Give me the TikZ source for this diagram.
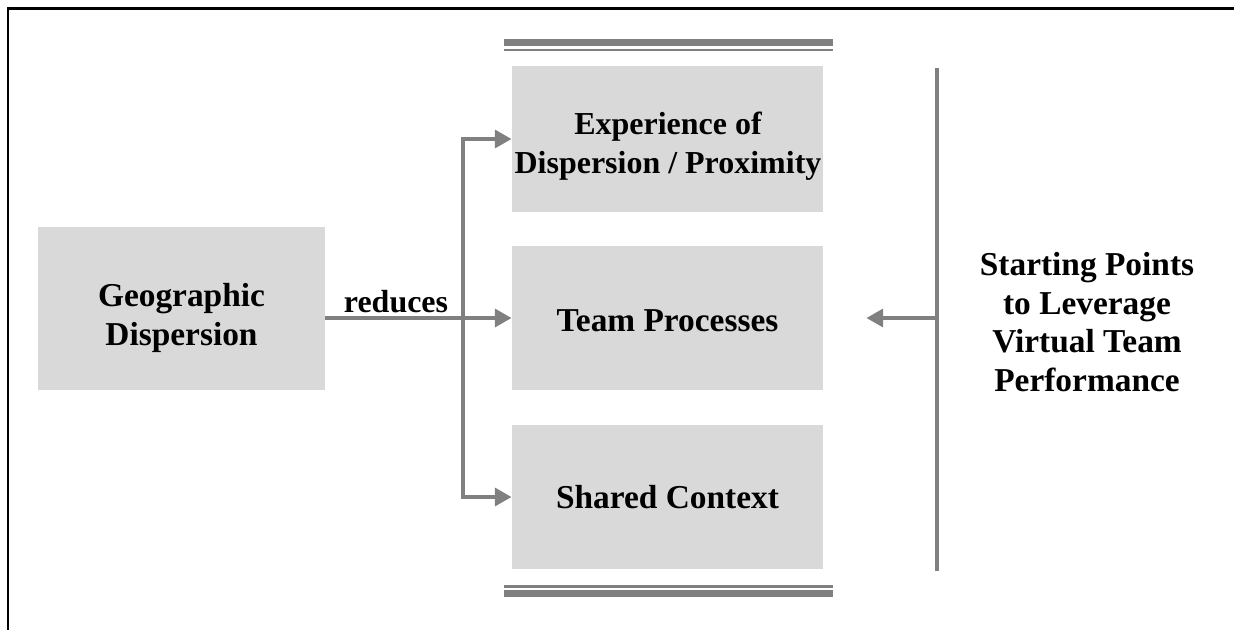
\documentclass[tikz,border=0pt]{standalone}
\usepackage{fontspec}
\setmainfont{Liberation Serif}
\usetikzlibrary{arrows.meta,positioning}

\tikzset{
  factor/.style={fill=black!15, inner sep=0pt, minimum width=#1*0.02cm},
  boxtext/.style={align=center, inner sep=0pt, font=\fontsize{19}{22}\selectfont\bfseries},
  link/.style={draw=black!50, line width=2.8pt},
  arr/.style={link, -{Triangle[length=9.5pt,width=10pt]}}
}

\begin{document}
\begin{tikzpicture}[x=0.02cm,y=-0.02cm]
    \useasboundingbox (0,0) rectangle (1234,630);
    % Frame (top and left only)
    \draw[line width=1.7pt] (1234,8) -- (8,8) -- (8,630);

    % Boxes
    \node[factor=287, minimum height=163*0.02cm] (geo) at (181.5,308.5) {};
    \node[factor=311, minimum height=146*0.02cm] (exp) at (667.5,139) {};
    \node[factor=311, minimum height=144*0.02cm] (team) at (667.5,318) {};
    \node[factor=311, minimum height=144*0.02cm] (shared) at (667.5,497) {};

    % Box texts
    \node[boxtext] (geotxt) at (181.5,318) {Geographic\\Dispersion};
    \node[boxtext, font=\fontsize{18.2}{22}\selectfont\bfseries] (exptxt) at (668,146)
      {Experience of\\Dispersion / Proximity};
    \node[boxtext] (teamtxt) at (667.5,321) {Team Processes};
    \node[boxtext] (sharedtxt) at (667.5,497) {Shared Context};

    % Double bars above and below
    \draw[black!50, line width=4pt] (504,42.5) -- (833,42.5);
    \draw[black!50, line width=1.4pt] (504,50) -- (833,50);
    \draw[black!50, line width=1.4pt] (504,586.5) -- (833,586.5);
    \draw[black!50, line width=4pt] (504,593.5) -- (833,593.5);

    % Arrows out of geographic dispersion
    \coordinate (split) at (463,318);
    \draw[arr] (geo.east |- team.west) -- (team.west);
    \node[boxtext, font=\fontsize{18.2}{22}\selectfont\bfseries] (red) at (396,302) {reduces};
    \draw[arr] (split) |- (exp.west);
    \draw[arr] (split) |- (shared.west);

    % Starting points on the right
    \coordinate (bartop) at (937,68);
    \coordinate (barbot) at (937,571);
    \draw[link] (bartop) -- (barbot);
    \draw[arr, shorten >=43*0.02cm] (bartop |- team.east) -- (team.east);
    \node[boxtext] (start) at (1087,322)
      {Starting Points\\to Leverage\\Virtual Team\\Performance};
\end{tikzpicture}
\end{document}
